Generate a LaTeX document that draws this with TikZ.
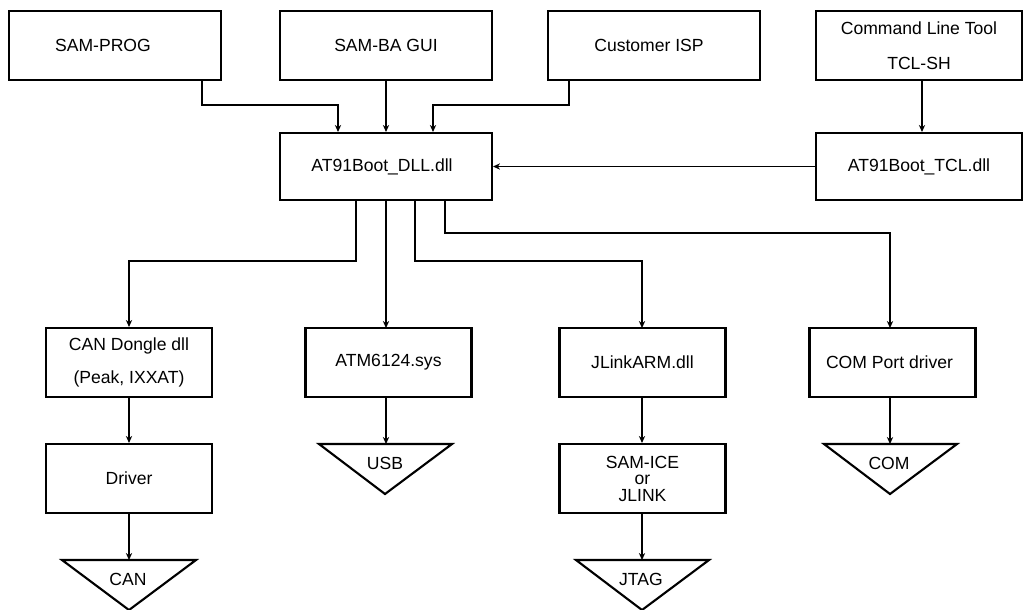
\documentclass[tikz,border=0pt]{standalone}
\usepackage{fontspec}
\setmainfont{Liberation Sans}
\usetikzlibrary{calc,arrows.meta}
\begin{document}
\begin{tikzpicture}[x=0.02cm,y=-0.02cm,
  box/.style={draw,line width=1.2pt,inner sep=0pt,align=center,font=\fontsize{10}{11.5}\selectfont},
  topbox/.style={box,minimum width=4.24cm,minimum height=1.38cm},
  midbox/.style={box,minimum width=4.24cm,minimum height=1.34cm},
  lowbox/.style={box,minimum width=3.32cm,minimum height=1.38cm},
  tri/.style={draw,line width=1.2pt,line join=miter},
  txt/.style={inner sep=0pt,font=\fontsize{10}{11.5}\selectfont},
  arr/.style={draw,line width=0.6pt,-{Stealth[length=4pt,width=3.6pt]}}]
\useasboundingbox (0,0) rectangle (1024,609);

% top row
\node[topbox] (prog) at (115,45.5) {\hspace*{-0.48cm}SAM-PROG};
\node[topbox] (gui) at (386,45.5) {SAM-BA GUI};
\node[topbox] (isp) at (654,45.5) {\hspace*{-0.2cm}Customer ISP};
\node[box,minimum width=4.12cm,minimum height=1.38cm] (clt) at (919,45.5) {Command Line Tool\\[8.5pt]TCL-SH};

% middle
\node[midbox] (dll) at (386,166.5) {\hspace*{-0.16cm}AT91Boot\_DLL.dll};
\node[box,minimum width=4.12cm,minimum height=1.34cm] (tcl) at (919,166.5) {AT91Boot\_TCL.dll};

% second row
\node[lowbox] (can) at (129,362.5) {CAN Dongle dll\\[7pt](Peak, IXXAT)};
\node[lowbox] (atm) at (388.5,362.5) {ATM6124.sys};
\node[lowbox] (jlink) at (642.5,362.5) {JLinkARM.dll};
\node[lowbox] (com) at (892.5,362.5) {\hspace*{-0.12cm}COM Port driver};

% third row
\node[lowbox] (drv) at (129,478.5) {Driver};
\node[lowbox,font=\fontsize{10}{9.4}\selectfont] (ice) at (642.5,478.5) {SAM-ICE\\or\\JLINK};

% triangles
\draw[tri] (319,444) -- (452,444) -- (385,494) -- cycle;
\coordinate (usbtop) at (386,444);
\node[txt] (usb) at (385,463) {USB};
\draw[tri] (824,444) -- (957,444) -- (890,494) -- cycle;
\coordinate (comtop) at (890,444);
\node[txt] (comt) at (889,463) {COM};
\draw[tri] (62,560) -- (196,560) -- (129,610) -- cycle;
\coordinate (cantop) at (129,560);
\node[txt] (cant) at (128,579) {CAN};
\draw[tri] (576,560) -- (709,560) -- (642,610) -- cycle;
\coordinate (jtagtop) at (642,560);
\node[txt] (jtag) at (641,579) {JTAG};

% connectors top
\draw[arr] ($(prog.south)+(87,0)$) |- (338,105) -- ($(dll.north)+(-48,0)$);
\draw[arr] (gui.south) -- (dll.north);
\draw[arr] ($(isp.south)+(-85,0)$) |- (433,105) -- ($(dll.north)+(47,0)$);
\draw[arr] ($(clt.south)+(3,0)$) -- ($(tcl.north)+(3,0)$);
\draw[arr] (tcl.west) -- (dll.east);

% connectors bottom
\draw[arr] ($(dll.south)+(-30,0)$) |- (129,261) -- (can.north);
\draw[arr] (dll.south) -- (386,328);
\draw[arr] ($(dll.south)+(29,0)$) |- (642,261) -- (642,328);
\draw[arr] ($(dll.south)+(59,0)$) |- (890,233) -- (890,328);

\draw[arr] (can.south) -- (drv.north);
\draw[arr] (atm.south -| usbtop) -- (usbtop);
\draw[arr] (jlink.south -| jtagtop) -- (ice.north -| jtagtop);
\draw[arr] (com.south -| comtop) -- (comtop);
\draw[arr] (drv.south) -- (cantop);
\draw[arr] (ice.south -| jtagtop) -- (jtagtop);
\end{tikzpicture}
\end{document}
